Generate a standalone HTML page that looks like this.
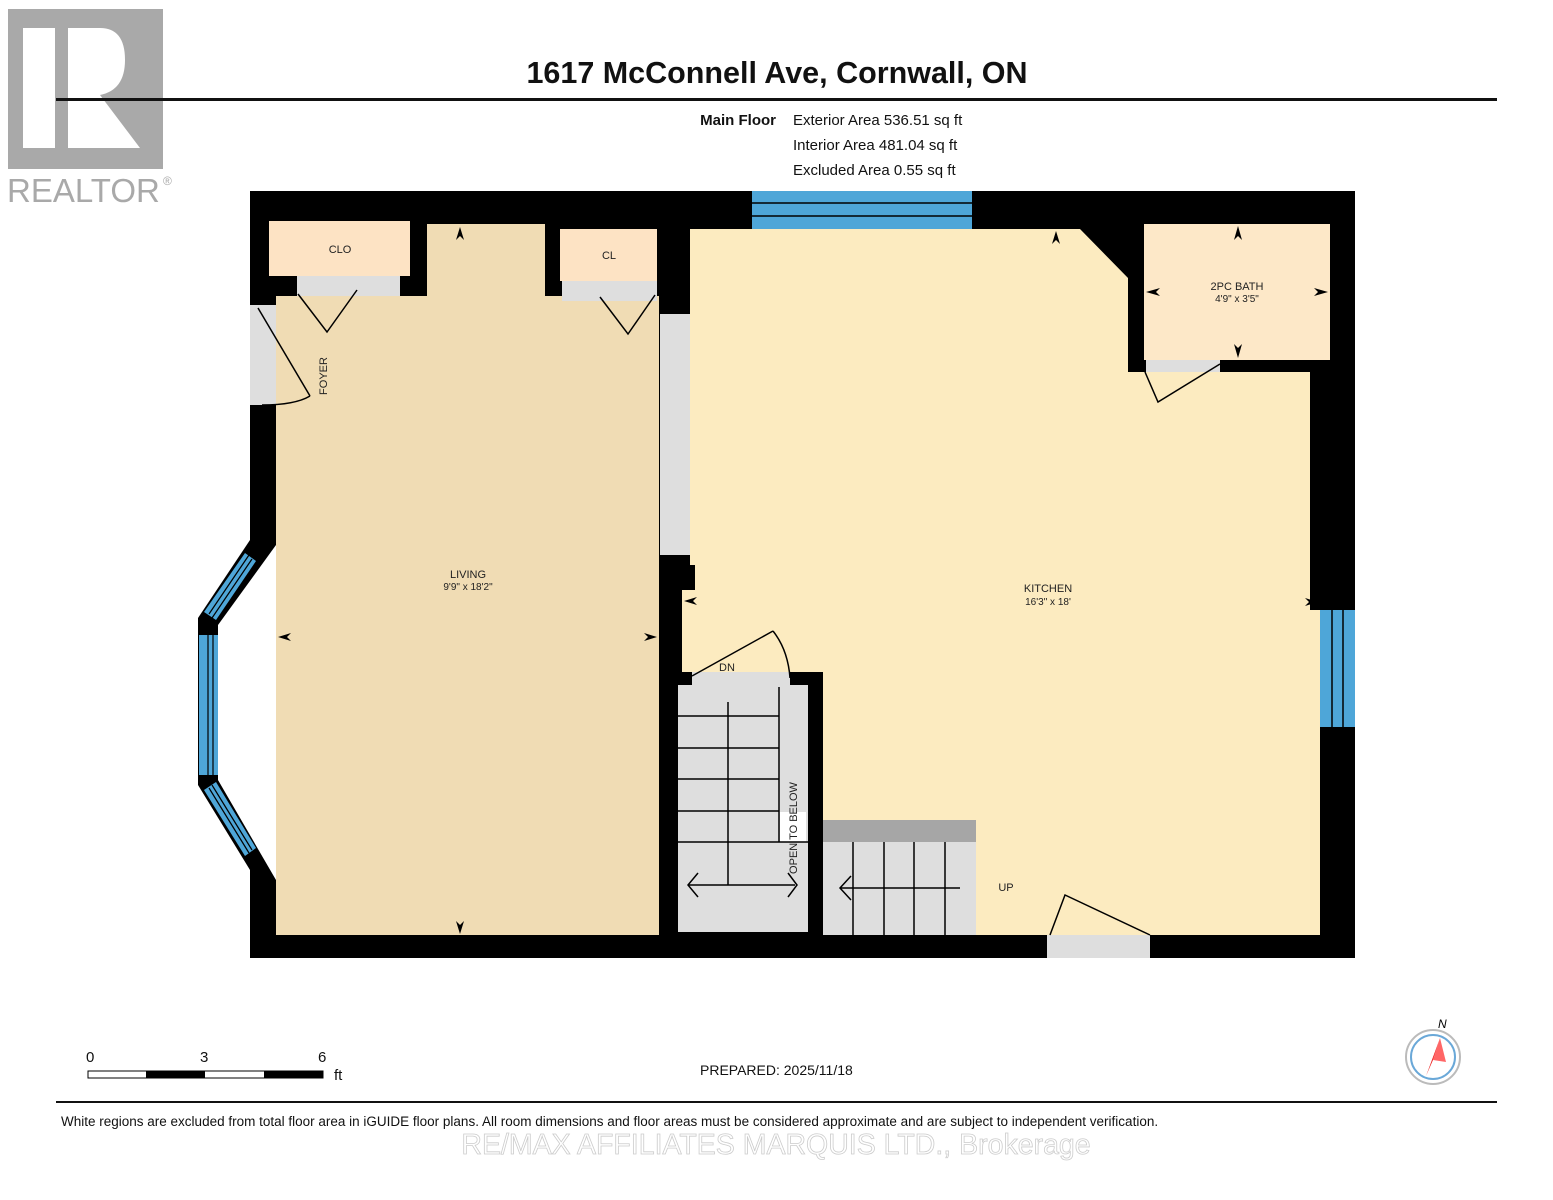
<!DOCTYPE html>
<html><head><meta charset="utf-8"><style>
body{margin:0;background:#fff;width:1553px;height:1200px;overflow:hidden}
svg{display:block}
text{font-family:"Liberation Sans",sans-serif}
</style></head><body>
<svg width="1553" height="1200" viewBox="0 0 1553 1200">
<!-- realtor logo -->
<rect x="8" y="9" width="155" height="160" fill="#a9a9a9"/>
<rect x="23" y="28" width="32" height="120" fill="#fff"/>
<path d="M68 28 H100 Q125 28 125 60 Q125 90 100 95 L140 148 H68 Z" fill="#fff"/>
<rect x="68" y="28" width="25" height="120" fill="#fff"/>
<text x="7" y="202" font-size="33" fill="#a9a9a9">REALTOR</text>
<text x="163" y="185" font-size="12" fill="#a9a9a9">®</text>
<text x="777" y="83" font-size="30.5" font-weight="bold" text-anchor="middle" fill="#111">1617 McConnell Ave, Cornwall, ON</text>
<rect x="56" y="98" width="1441" height="3" fill="#111"/>
<text x="776" y="125" font-size="15" font-weight="bold" text-anchor="end" fill="#111">Main Floor</text>
<text x="793" y="125" font-size="15" fill="#111">Exterior Area 536.51 sq ft</text>
<text x="793" y="150" font-size="15" fill="#111">Interior Area 481.04 sq ft</text>
<text x="793" y="175" font-size="15" fill="#111">Excluded Area 0.55 sq ft</text>

<!-- outer walls -->
<rect x="250" y="191" width="1105" height="767" fill="#000"/>
<!-- bay -->
<polygon points="276,540 250,540 198,618 198,785 250,870 276,890" fill="#000"/>
<polygon points="276,545 218,625 218,780 276,880" fill="#fff"/>
<polygon points="245,553 256,561 216,620 204,612" fill="#4ea6d8"/>
<rect x="199" y="635" width="19" height="140" fill="#4ea6d8"/>
<polygon points="204,790 216,782 256,848 245,856" fill="#4ea6d8"/>
<g stroke="#000" stroke-width="1.2">
<line x1="208" y1="635" x2="208" y2="775"/><line x1="213" y1="635" x2="213" y2="775"/>
<line x1="249" y1="555" x2="209" y2="614"/><line x1="252" y1="559" x2="212" y2="618"/>
<line x1="209" y1="788" x2="249" y2="853"/><line x1="212" y1="785" x2="252" y2="850"/>
</g>
<!-- living -->
<rect x="276" y="296" width="383" height="639" fill="#f0dcb4"/>
<rect x="427" y="224" width="118" height="80" fill="#f0dcb4"/>
<rect x="250" y="305" width="26" height="100" fill="#dedede"/>
<rect x="269" y="221" width="141" height="55" fill="#fde3c4"/>
<rect x="297" y="276" width="103" height="20" fill="#dedede"/>
<rect x="560" y="229" width="97" height="52" fill="#fde3c4"/>
<rect x="562" y="281" width="95" height="20" fill="#dedede"/>
<!-- between -->
<rect x="660" y="314" width="30" height="241" fill="#dedede"/>
<!-- kitchen -->
<polygon points="690,229 1080,229 1128,278 1128,372 1310,372 1310,610 1320,610 1320,935 976,935 976,842 823,842 823,672 682,672 682,590 695,590 695,565 690,565" fill="#fcebc0"/>
<rect x="1144" y="224" width="186" height="136" fill="#fde8c8"/>
<rect x="1146" y="360" width="74" height="12" fill="#dedede"/>
<rect x="752" y="191" width="220" height="38" fill="#4ea6d8"/>
<line x1="752" y1="203" x2="972" y2="203" stroke="#000" stroke-width="1.5"/>
<line x1="752" y1="216" x2="972" y2="216" stroke="#000" stroke-width="1.5"/>
<rect x="1320" y="610" width="35" height="117" fill="#4ea6d8"/>
<line x1="1332" y1="610" x2="1332" y2="727" stroke="#000" stroke-width="1.5"/>
<line x1="1343" y1="610" x2="1343" y2="727" stroke="#000" stroke-width="1.5"/>
<rect x="1047" y="935" width="103" height="23" fill="#dedede"/>
<!-- stairs -->
<rect x="692" y="672" width="98" height="13" fill="#dedede"/>
<rect x="678" y="685" width="130" height="247" fill="#dedede"/>
<rect x="780" y="812" width="26" height="30" fill="#fff"/>
<g stroke="#000" stroke-width="1.5" fill="none">
<line x1="779" y1="687" x2="779" y2="842"/>
<line x1="678" y1="716" x2="779" y2="716"/><line x1="678" y1="748" x2="779" y2="748"/>
<line x1="678" y1="779" x2="779" y2="779"/><line x1="678" y1="811" x2="779" y2="811"/>
<line x1="678" y1="842" x2="808" y2="842"/>
<line x1="728" y1="702" x2="728" y2="885"/>
<line x1="688" y1="885" x2="795" y2="885"/>
<polyline points="698,873 688,885 698,897"/><polyline points="788,873 797,885 788,897"/>
<polyline points="258,308 310,396" /><path d="M310,396 Q295,405 262,405"/>
<polyline points="298,294 327,332 357,290"/><polyline points="600,297 628,334 655,295"/>
<polyline points="692,676 773,631"/><path d="M773,631 Q788,650 790,678"/>
<polyline points="1150,935 1065,895 1050,935"/>
<polyline points="1145,372 1158,402 1220,364"/>
</g>
<rect x="823" y="820" width="153" height="22" fill="#a6a6a6"/>
<rect x="823" y="842" width="153" height="93" fill="#dedede"/>
<g stroke="#000" stroke-width="1.5" fill="none">
<line x1="853" y1="842" x2="853" y2="935"/><line x1="884" y1="842" x2="884" y2="935"/>
<line x1="914" y1="842" x2="914" y2="935"/><line x1="945" y1="842" x2="945" y2="935"/>
<line x1="840" y1="888" x2="960" y2="888"/><polyline points="851,876 840,888 851,900"/>
</g>
<!-- arrows -->
<g fill="#000">
<polygon points="460,227 456,240 460,236 464,240"/><polygon points="460,934 456,921 460,925 464,921"/>
<polygon points="278,637 291,633 287,637 291,641"/><polygon points="657,637 644,633 648,637 644,641"/>
<polygon points="1056,231 1052,244 1056,240 1060,244"/><polygon points="684,601 697,597 693,601 697,605"/>
<polygon points="1318,602 1305,598 1309,602 1305,606"/>
<polygon points="1238,226 1234,240 1238,236 1242,240"/><polygon points="1238,358 1234,344 1238,348 1242,344"/>
<polygon points="1146,292 1160,288 1156,292 1160,296"/><polygon points="1328,292 1314,288 1318,292 1314,296"/>
</g>
<g font-size="11" fill="#222" text-anchor="middle">
<text x="340" y="253">CLO</text><text x="609" y="259">CL</text>
<text x="468" y="578">LIVING</text><text x="468" y="590" font-size="10">9'9" x 18'2"</text>
<text x="1048" y="592">KITCHEN</text><text x="1048" y="605" font-size="10">16'3" x 18'</text>
<text x="1237" y="290">2PC BATH</text><text x="1237" y="302" font-size="10">4'9" x 3'5"</text>
<text x="727" y="671">DN</text><text x="1006" y="891">UP</text>
<text transform="translate(327,376) rotate(-90)">FOYER</text>
<text transform="translate(797,828) rotate(-90)">OPEN TO BELOW</text>
</g>
<!-- scale -->
<rect x="88" y="1071" width="235" height="7" fill="#fff" stroke="#000"/>
<rect x="146" y="1071" width="59" height="7" fill="#000"/><rect x="264" y="1071" width="59" height="7" fill="#000"/>
<g font-size="15" fill="#111"><text x="86" y="1062">0</text><text x="200" y="1062">3</text><text x="318" y="1062">6</text><text x="334" y="1080">ft</text>
<text x="700" y="1075" font-size="14">PREPARED: 2025/11/18</text></g>
<circle cx="1433" cy="1057" r="27" fill="#fff" stroke="#bbb" stroke-width="2"/>
<circle cx="1433" cy="1057" r="22" fill="none" stroke="#6aa8d8" stroke-width="2"/>
<polygon points="1440,1038 1426,1076 1433,1060" fill="#e22"/>
<polygon points="1440,1038 1433,1060 1446,1062" fill="#f66"/>
<text x="1438" y="1028" font-size="12" font-style="italic">N</text>
<rect x="56" y="1101" width="1441" height="2" fill="#111"/>
<text x="61" y="1126" font-size="13.5" fill="#111">White regions are excluded from total floor area in iGUIDE floor plans. All room dimensions and floor areas must be considered approximate and are subject to independent verification.</text>
<text x="776" y="1154" font-size="28.5" text-anchor="middle" fill="#fff" stroke="#ccc" stroke-width="0.8">RE/MAX AFFILIATES MARQUIS LTD., Brokerage</text>
</svg>
</body></html>
